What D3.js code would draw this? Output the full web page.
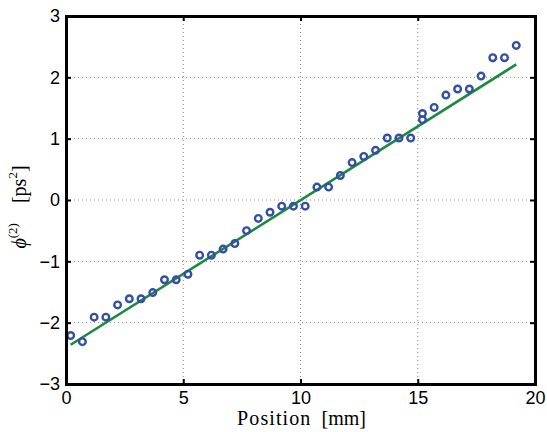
<!DOCTYPE html>
<html><head><meta charset="utf-8">
<script src="https://cdn.jsdelivr.net/npm/d3@7"></script>
<style>body{margin:0;background:#fff}</style>
</head><body>
<svg id="c" width="547" height="432"></svg>
<script>
const posX = [0.2,0.7,1.2,1.7,2.2,2.7,3.2,3.7,4.2,4.7,5.2,5.7,6.2,6.7,7.2,7.7,8.2,8.7,9.2,9.7,10.2,10.7,11.2,11.7,12.2,12.7,13.2,13.7,14.2,14.7,15.2,15.2,15.7,16.2,16.7,17.2,17.7,18.2,18.7,19.2];
const phiY = [-2.21,-2.31,-1.91,-1.91,-1.71,-1.61,-1.61,-1.51,-1.30,-1.30,-1.21,-0.90,-0.90,-0.80,-0.71,-0.50,-0.30,-0.20,-0.10,-0.10,-0.10,0.21,0.21,0.40,0.61,0.71,0.81,1.01,1.01,1.01,1.31,1.41,1.51,1.71,1.81,1.81,2.02,2.32,2.32,2.52];
const fitX = [0.2, 19.2];
const fitY = [-2.36, 2.21];
const xTicks = [0,5,10,15,20];
const yTicks = [-3,-2,-1,0,1,2,3];

const svg = d3.select('#c');
const L=66, R=535, T=16, B=384;
const x = d3.scaleLinear().domain([0,20]).range([L,R]);
const y = d3.scaleLinear().domain([-3,3]).range([B,T]);

// grid
const g = svg.append('g');
g.selectAll('.gx').data(xTicks.slice(1,-1)).enter().append('line')
  .attr('x1',d=>x(d)).attr('x2',d=>x(d)).attr('y1',T).attr('y2',B)
  .attr('stroke','#888').attr('stroke-width',1).attr('stroke-dasharray','1,3');
g.selectAll('.gy').data(yTicks.slice(1,-1)).enter().append('line')
  .attr('y1',d=>y(d)).attr('y2',d=>y(d)).attr('x1',L).attr('x2',R)
  .attr('stroke','#888').attr('stroke-width',1).attr('stroke-dasharray','1,3');

// fit line
svg.append('path').datum(fitX.map((v,i)=>[v,fitY[i]]))
  .attr('d', d3.line().x(d=>x(d[0])).y(d=>y(d[1])))
  .attr('stroke','#1b8a3e').attr('stroke-width',2.6).attr('fill','none');

// markers
svg.selectAll('.pt').data(posX.map((v,i)=>[v,phiY[i]])).enter().append('circle')
  .attr('cx',d=>x(d[0])).attr('cy',d=>y(d[1])).attr('r',3.3)
  .attr('fill','none').attr('stroke','#3550a3').attr('stroke-width',2.4);

// axes
const fs = '18px';
const axB = svg.append('g').attr('transform',`translate(0,${B})`)
  .call(d3.axisBottom(x).tickValues(xTicks).tickSize(-5).tickPadding(6).tickFormat(d3.format('d')));
const axT = svg.append('g').attr('transform',`translate(0,${T})`)
  .call(d3.axisTop(x).tickValues(xTicks).tickSize(-5).tickFormat(''));
const axL = svg.append('g').attr('transform',`translate(${L},0)`)
  .call(d3.axisLeft(y).tickValues(yTicks).tickSize(-5).tickPadding(6).tickFormat(d=>d<0?'\u2212'+Math.abs(d):d));
const axR = svg.append('g').attr('transform',`translate(${R},0)`)
  .call(d3.axisRight(y).tickValues(yTicks).tickSize(-5).tickFormat(''));
[axB,axT,axL,axR].forEach(a=>{
  a.select('.domain').attr('stroke','#000').attr('stroke-width',3);
  a.selectAll('.tick line').attr('stroke','#000').attr('stroke-width',2);
  a.selectAll('text').attr('font-family','Liberation Sans, Arial, sans-serif').attr('font-size',fs).attr('fill','#000');
});
axB.selectAll('text').attr('dy','0.75em');

// labels
const xl = svg.append('text').attr('x',(L+R)/2+1).attr('y',425).attr('text-anchor','middle')
  .attr('font-family','Liberation Serif, Times New Roman, serif').attr('font-size','20px');
xl.append('tspan').attr('letter-spacing','1.1px').text('Position');
xl.append('tspan').text('\u2002[mm]');
const yl = svg.append('text').attr('transform','translate(26,207) rotate(-90)').attr('text-anchor','middle')
  .attr('font-family','Liberation Serif, Times New Roman, serif').attr('font-size','20px');
yl.append('tspan').attr('font-style','italic').text('\u03d5');
yl.append('tspan').attr('font-size','13px').attr('dy','-9').text('(2)');
yl.append('tspan').attr('dy','9').text('\u2003[ps');
yl.append('tspan').attr('font-size','13px').attr('dy','-9').text('2');
yl.append('tspan').attr('dy','9').text(']');
</script>
</body></html>
